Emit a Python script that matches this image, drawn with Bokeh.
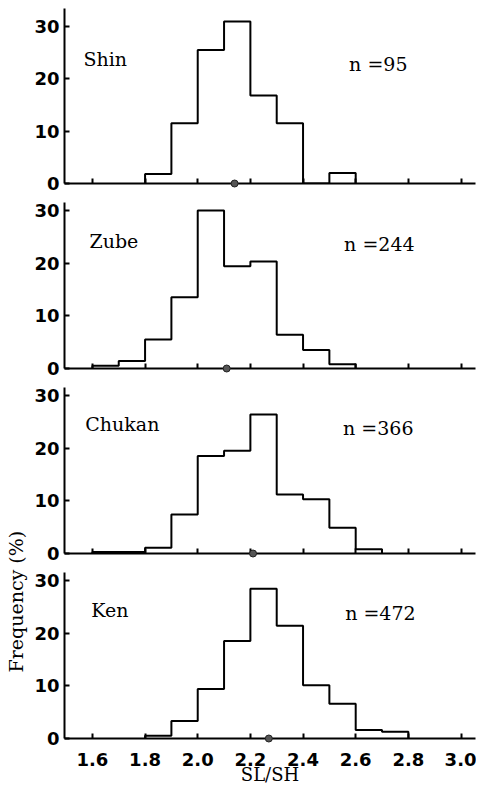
import numpy as np
from bokeh.plotting import figure
from bokeh.layouts import column, row
from bokeh.models import Range1d, FixedTicker, Label
from bokeh.embed import file_html
from bokeh.resources import INLINE

# ---------------- data ----------------
groups = ["Shin", "Zube", "Chukan", "Ken"]
sample_sizes = [95, 244, 366, 472]
bin_width = 0.1
shin_start = 1.8
shin_freq = [1.8, 11.5, 25.5, 30.9, 16.8, 11.5, 0.0, 2.0]
zube_start = 1.6
zube_freq = [0.5, 1.4, 5.5, 13.5, 30.0, 19.4, 20.3, 6.4, 3.5, 0.8]
chukan_start = 1.6
chukan_freq = [0.3, 0.3, 1.1, 7.4, 18.5, 19.5, 26.4, 11.2, 10.3, 4.9, 0.8]
ken_start = 1.8
ken_freq = [0.5, 3.3, 9.4, 18.5, 28.4, 21.4, 10.1, 6.6, 1.6, 1.3]
means = [2.14, 2.11, 2.21, 2.27]
x_ticks = [1.6, 1.8, 2.0, 2.2, 2.4, 2.6, 2.8, 3.0]
x_tick_labels = ["1.6", "1.8", "2.0", "2.2", "2.4", "2.6", "2.8", "3.0"]
y_ticks = [0, 10, 20, 30]
y_tick_labels = ["0", "10", "20", "30"]

starts = [shin_start, zube_start, chukan_start, ken_start]
freqs = [shin_freq, zube_freq, chukan_freq, ken_freq]

# ---------------- styles / layout ----------------
SERIF = "DejaVu Serif"
SANS = "DejaVu Sans"
X_RANGE = (1.494, 3.055)
panel_w = 446
heights = [193, 185, 185, 228]
borders_top = [8, 9, 9, 9]
borders_bottom = [10, 10, 10, 53]
y_ends = [33.4, 31.5, 31.5, 31.5]
name_pos = [(1.566, 23.8), (1.589, 24.2), (1.573, 24.5), (1.596, 24.4)]
n_pos = [(2.575, 22.9), (2.556, 23.6), (2.552, 23.8), (2.560, 23.9)]

panels = []
for i in range(4):
    last = (i == 3)
    p = figure(width=panel_w, height=heights[i], output_backend="svg",
               toolbar_location=None,
               x_range=Range1d(*X_RANGE), y_range=Range1d(0, y_ends[i]),
               min_border_left=34, min_border_right=1,
               min_border_top=borders_top[i], min_border_bottom=borders_bottom[i])
    p.outline_line_color = None
    p.grid.visible = False
    p.background_fill_color = "white"
    p.border_fill_color = "white"

    # y axis
    ya = p.yaxis[0]
    ya.ticker = FixedTicker(ticks=y_ticks)
    ya.major_label_overrides = {t: l for t, l in zip(y_ticks, y_tick_labels)}
    ya.major_tick_in = 5
    ya.major_tick_out = 0
    ya.minor_tick_line_color = None
    ya.axis_line_width = 2
    ya.major_tick_line_width = 2
    ya.major_label_standoff = 5
    ya.major_label_text_font = SANS
    ya.major_label_text_font_style = "bold"
    ya.major_label_text_font_size = "18px"
    ya.major_label_text_color = "black"

    # x axis
    xa = p.xaxis[0]
    xa.ticker = FixedTicker(ticks=x_ticks)
    xa.major_tick_in = 5
    xa.major_tick_out = 0
    xa.minor_tick_line_color = None
    xa.axis_line_width = 2
    xa.major_tick_line_width = 2
    if last:
        xa.major_label_overrides = {t: l for t, l in zip(x_ticks, x_tick_labels)}
        xa.major_label_standoff = 14
        xa.major_label_text_font = SANS
        xa.major_label_text_font_style = "bold"
        xa.major_label_text_font_size = "18px"
        xa.major_label_text_color = "black"
        xa.axis_label = "SL/SH"
        xa.axis_label_text_font = SERIF
        xa.axis_label_text_font_style = "normal"
        xa.axis_label_text_font_size = "18px"
        xa.axis_label_text_color = "black"
        xa.axis_label_standoff = -5
    else:
        xa.major_label_overrides = {t: "" for t in x_ticks}
        xa.major_label_standoff = 0
        xa.major_label_text_font_size = "0px"

    # histogram outline (step)
    vals = np.array(freqs[i], dtype=float)
    edges = starts[i] + bin_width * np.arange(len(vals) + 1)
    xs = np.repeat(edges, 2)
    ys = np.concatenate([[0.0], np.repeat(vals, 2), [0.0]])
    p.line(xs, ys, line_color="black", line_width=2)

    # mean marker
    r = p.scatter([means[i]], [0], size=7, marker="circle",
                  fill_color="#555555", line_color="#222222", line_width=1)
    r.level = "overlay"

    # labels
    p.add_layout(Label(x=name_pos[i][0], y=name_pos[i][1], text=groups[i],
                       text_font=SERIF, text_font_size="19px",
                       text_baseline="middle", text_align="left",
                       text_color="black"))
    p.add_layout(Label(x=n_pos[i][0], y=n_pos[i][1], text=f"n ={sample_sizes[i]}",
                       text_font=SERIF, text_font_size="19px",
                       text_baseline="middle", text_align="left",
                       text_color="black"))
    panels.append(p)

# shared y-axis title
lab = figure(width=30, height=sum(heights), output_backend="svg",
             toolbar_location=None, x_range=Range1d(0, 1), y_range=Range1d(0, 1),
             min_border=0, x_axis_location=None, y_axis_location=None)
lab.outline_line_color = None
lab.grid.visible = False
lab.add_layout(Label(x=0.53, y=0.240, text="Frequency (%)", angle=np.pi / 2,
                     text_font=SERIF, text_font_size="19px",
                     text_align="center", text_baseline="middle",
                     text_color="black"))

layout = row(lab, column(*panels, spacing=0), spacing=0)

with open("out.html", "w") as f:
    f.write(file_html(layout, INLINE))
